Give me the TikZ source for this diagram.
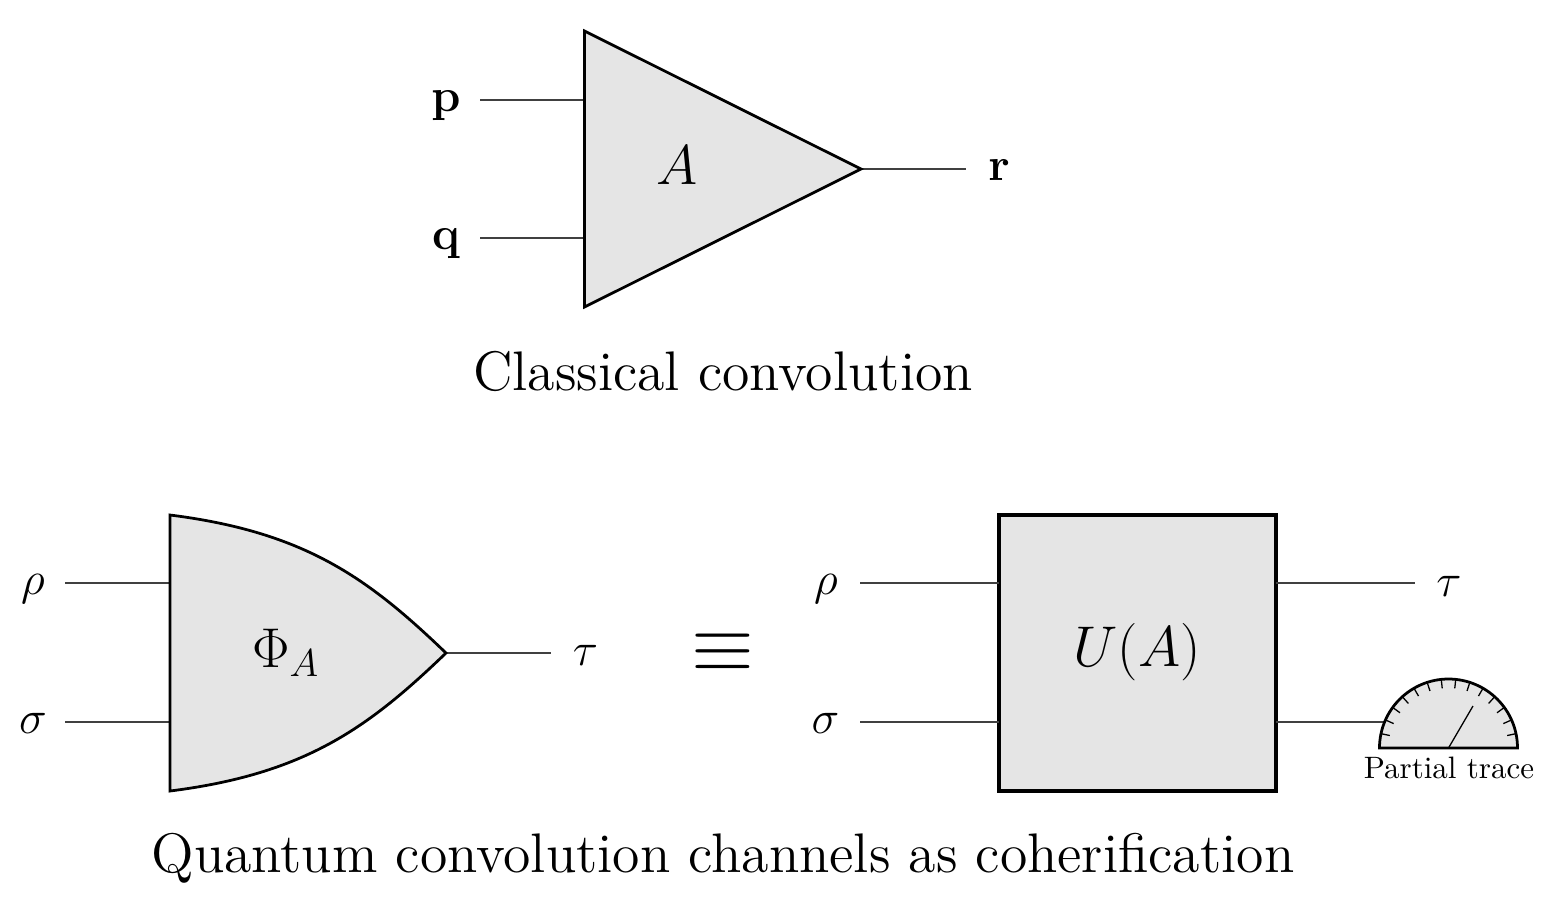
\documentclass[tikz,border=0pt]{standalone}
\usepackage{amsmath,amssymb}
\usetikzlibrary{calc}
\begin{document}
\begin{tikzpicture}[x=0.3082pt,y=-0.3082pt,
  gate/.style={draw=black,fill=black!10,line width=0.85pt,line join=miter},
  wire/.style={draw=black!75,line width=0.4pt},
  tick/.style={draw=black,line width=0.4pt},
  lbl/.style={inner sep=0pt,outer sep=0pt,anchor=center},
  caption/.style={lbl,font=\fontsize{12}{14}\selectfont,scale=1.432},
  gatetext/.style={lbl,font=\LARGE}]
\useasboundingbox (0,0) rectangle (1548,898);

% classical convolution
\coordinate (tl) at (584.5,31);
\coordinate (bl) at (584.5,307);
\coordinate (tip) at (861,169);
\coordinate (pin) at (584.5,100);
\coordinate (qin) at (584.5,238);
\coordinate (pend) at (480,100);
\coordinate (qend) at (480,238);
\coordinate (rend) at (966,169);
\draw[wire] (pend) -- (pin);
\draw[wire] (qend) -- (qin);
\draw[wire] (tip) -- (rend);
\path[gate] (tl) -- (tip) -- (bl) -- cycle;
\node[gatetext] (A) at (677,165) {$A$};
\node[lbl,font=\Large] (p) at (446,106) {$\mathbf{p}$};
\node[lbl,font=\Large] (q) at (446,244) {$\mathbf{q}$};
\node[lbl,font=\Large] (r) at (999,170) {$\mathbf{r}$};
\node[caption] (cc) at (723,371.5) {Classical convolution};

% quantum channel
\coordinate (ctl) at (170,515);
\coordinate (cbl) at (170,791);
\coordinate (ctip) at (446,653);
\coordinate (rhoin) at (170,583);
\coordinate (sigin) at (170,722);
\coordinate (rhoend) at (65,583);
\coordinate (sigend) at (65,722);
\coordinate (tauend) at (551,653);
\draw[wire] (rhoend) -- (rhoin);
\draw[wire] (sigend) -- (sigin);
\draw[wire] (ctip) -- (tauend);
\path[gate] (ctl) .. controls (305,532) and (368,578) .. (ctip)
  .. controls (368,728) and (305,774) .. (cbl) -- cycle;
\node[gatetext] (phi) at (286,653) {$\Phi_A$};
\node[lbl,font=\Large] (rho) at (33,589) {$\rho$};
\node[lbl,font=\Large] (sig) at (33,723) {$\sigma$};
\node[lbl,font=\Large] (tau) at (585.5,655) {$\tau$};

\node[lbl,font=\Huge] (eq) at (723,653) {$\equiv$};

% unitary with traced-out output
\node[gate,line width=0.95pt,inner sep=0pt,outer sep=0pt,anchor=north west,
      minimum width=85.37pt,minimum height=85.06pt] (U) at (999,515) {};
\node[gatetext,scale=1.025] (Ulabel) at (1137,652) {$U(A)$};
\coordinate (uin1) at (999,583);
\coordinate (uin2) at (999,722);
\coordinate (uout1) at (1276,583);
\coordinate (uout2) at (1276,722);
\coordinate (rho2end) at (860,583);
\coordinate (sig2end) at (860,722);
\coordinate (tau2end) at (1415,583);
\coordinate (gc) at (1448.5,748);
\coordinate (gin) at (1385,722);
\draw[wire] (rho2end) -- (uin1);
\draw[wire] (sig2end) -- (uin2);
\draw[wire] (uout1) -- (tau2end);
\draw[wire] (uout2) -- (gin);
\node[lbl,font=\Large] (rho2) at (826,589) {$\rho$};
\node[lbl,font=\Large] (sig2) at (825.5,723) {$\sigma$};
\node[lbl,font=\Large] (tau2) at (1449,586) {$\tau$};

% measurement dial
\path[gate] (1379.5,748) arc[start angle=180,end angle=0,x radius=69,y radius=-69] -- cycle;
\foreach \a in {12,24,...,168}
  \draw[tick] ($(gc)+({69*cos(\a)},{-69*sin(\a)})$) -- ($(gc)+({60*cos(\a)},{-60*sin(\a)})$);
\draw[tick] (gc) -- (1473,706);
\node[lbl,font=\fontsize{9.55}{11}\selectfont] (pt) at (1449,767.5) {Partial trace};

\node[caption] (qc) at (723,858) {Quantum convolution channels as coherification};
\end{tikzpicture}
\end{document}
